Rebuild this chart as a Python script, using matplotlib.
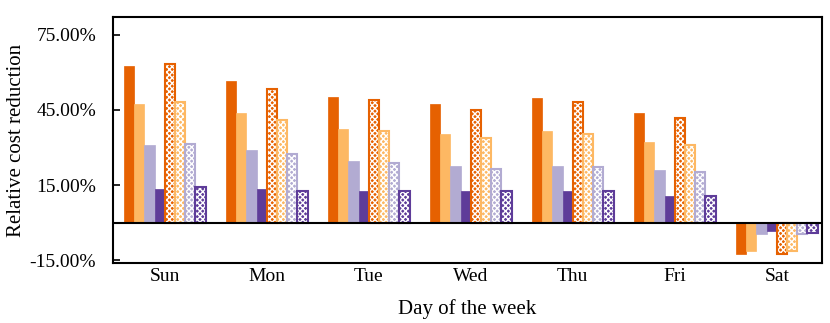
import numpy as np
import matplotlib
matplotlib.use("Agg")
import matplotlib.pyplot as plt
from matplotlib.ticker import FormatStrFormatter

days = ["Sun", "Mon", "Tue", "Wed", "Thu", "Fri", "Sat"]

# solid series
s1 = [62.7, 56.7, 50.3, 47.2, 49.7, 43.8, -12.4]
s2 = [47.2, 43.9, 37.2, 35.5, 36.6, 32.2, -11.1]
s3 = [30.9, 28.9, 24.5, 22.5, 22.5, 21.2, -4.6]
s4 = [13.4, 13.3, 12.7, 12.7, 12.7, 10.7, -3.3]
# hatched series
h1 = [63.3, 53.4, 49.0, 45.1, 48.1, 41.9, -12.4]
h2 = [48.3, 41.1, 36.5, 33.9, 35.5, 30.9, -11.1]
h3 = [31.4, 27.6, 23.7, 21.6, 22.2, 20.4, -4.6]
h4 = [14.3, 12.6, 12.7, 12.6, 12.6, 10.6, -4.0]

colors = ["#e66101", "#fdb863", "#b2abd2", "#5e3c99"]

plt.rcParams["font.family"] = ["Liberation Serif", "DejaVu Serif"]
plt.rcParams["hatch.linewidth"] = 1.0

fig = plt.figure(figsize=(8.3, 3.23), dpi=100)
ax = fig.add_axes([0.136, 0.186, 0.854, 0.761])

x = np.arange(len(days))
w = 0.1
offsets = (np.arange(8) - 3.5) * w

for i, (vals, c) in enumerate(zip([s1, s2, s3, s4], colors)):
    ax.bar(x + offsets[i], vals, w, color=c, edgecolor=c, linewidth=0.5, zorder=2)

for i, (vals, c) in enumerate(zip([h1, h2, h3, h4], colors)):
    ax.bar(x + offsets[i + 4], vals, w, color=c, edgecolor="white",
           hatch="xxxxxx", linewidth=0, zorder=2)
    ax.bar(x + offsets[i + 4], vals, w, fill=False, edgecolor=c,
           linewidth=1.5, zorder=3)

ax.axhline(0, color="black", linewidth=1.5, zorder=4)

ax.set_xlim(-0.51, 6.44)
ax.set_ylim(-16, 82)
ax.set_yticks([-15, 15, 45, 75])
ax.yaxis.set_major_formatter(FormatStrFormatter("%.2f%%"))
ax.set_xticks(x)
ax.set_xticklabels(days)

ax.tick_params(axis="y", direction="in", length=5, width=1.2, labelsize=14, pad=12)
ax.tick_params(axis="x", length=0, labelsize=14, pad=4)
for sp in ax.spines.values():
    sp.set_linewidth(1.5)

ax.set_xlabel("Day of the week", fontsize=15, labelpad=10)
ax.set_ylabel("Relative cost reduction", fontsize=15)
ax.yaxis.set_label_coords(-0.123, 0.5)

fig.savefig("out.png", dpi=100)
